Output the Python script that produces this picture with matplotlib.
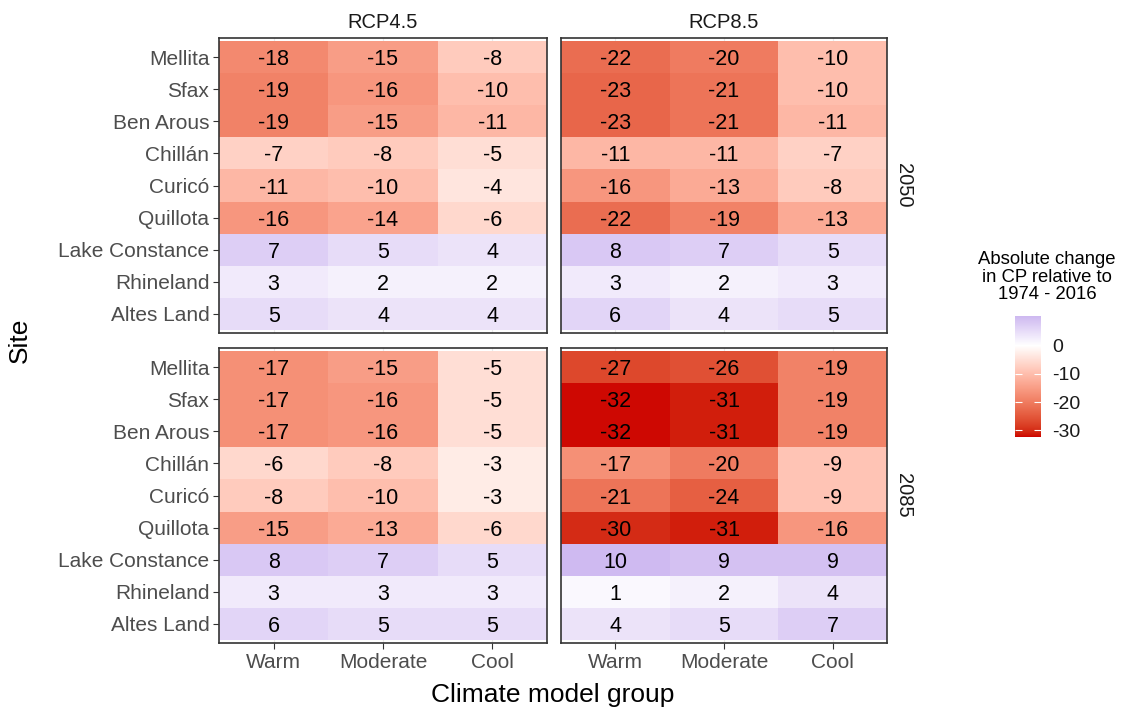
import numpy as np
import matplotlib
matplotlib.use("Agg")
import matplotlib.pyplot as plt
from matplotlib.colors import ListedColormap, Normalize

plt.rcParams['font.family'] = ['Liberation Sans', 'DejaVu Sans']
plt.rcParams['axes.unicode_minus'] = False

# Dane
sites = ["Mellita", "Sfax", "Ben Arous", "Chillán", "Curicó", "Quillota",
         "Lake Constance", "Rhineland", "Altes Land"]
groups = ["Warm", "Moderate", "Cool"]
scenarios = ["RCP4.5", "RCP8.5"]
years = ["2050", "2085"]

# kolumny: Warm, Moderate, Cool
rcp45_2050 = [[-18, -15, -8], [-19, -16, -10], [-19, -15, -11], [-7, -8, -5],
              [-11, -10, -4], [-16, -14, -6], [7, 5, 4], [3, 2, 2], [5, 4, 4]]
rcp85_2050 = [[-22, -20, -10], [-23, -21, -10], [-23, -21, -11], [-11, -11, -7],
              [-16, -13, -8], [-22, -19, -13], [8, 7, 5], [3, 2, 3], [6, 4, 5]]
rcp45_2085 = [[-17, -15, -5], [-17, -16, -5], [-17, -16, -5], [-6, -8, -3],
              [-8, -10, -3], [-15, -13, -6], [8, 7, 5], [3, 3, 3], [6, 5, 5]]
rcp85_2085 = [[-27, -26, -19], [-32, -31, -19], [-32, -31, -19], [-17, -20, -9],
              [-21, -24, -9], [-30, -31, -16], [10, 9, 9], [1, 2, 4], [4, 5, 7]]

panels = {("2050", "RCP4.5"): rcp45_2050, ("2050", "RCP8.5"): rcp85_2050,
          ("2085", "RCP4.5"): rcp45_2085, ("2085", "RCP8.5"): rcp85_2085}

vmin, vmax = -32.3, 10.4


###############################################################################
# Skala kolorów interpolowana w przestrzeni Lab (jak w ggplot2).
###############################################################################

M = np.array([[0.4124, 0.3576, 0.1805],
              [0.2126, 0.7152, 0.0722],
              [0.0193, 0.1192, 0.9505]])
WHITE = np.array([0.95047, 1.0, 1.08883])

def to_lab(hexcol):
    c = np.array(matplotlib.colors.to_rgb(hexcol))
    lin = np.where(c <= 0.04045, c / 12.92, ((c + 0.055) / 1.055) ** 2.4)
    xyz = M @ lin / WHITE
    d = 6 / 29
    f = np.where(xyz > d ** 3, np.cbrt(xyz), xyz / (3 * d * d) + 4 / 29)
    return np.array([116 * f[1] - 16, 500 * (f[0] - f[1]), 200 * (f[1] - f[2])])

def from_lab(lab):
    L, a, b = lab
    fy = (L + 16) / 116
    f = np.array([fy + a / 500, fy, fy - b / 200])
    d = 6 / 29
    xyz = np.where(f > d, f ** 3, 3 * d * d * (f - 4 / 29)) * WHITE
    lin = np.linalg.solve(M, xyz)
    lin = np.clip(lin, 0, 1)
    c = np.where(lin <= 0.0031308, 12.92 * lin, 1.055 * lin ** (1 / 2.4) - 0.055)
    return np.clip(c, 0, 1)

low, mid, high = to_lab("#CD0000"), to_lab("#FFFFFF"), to_lab("#CDB8F0")
colors = []
for v in np.linspace(vmin, vmax, 512):
    if v < 0:
        t = v / vmin
        colors.append(from_lab(mid + t * (low - mid)))
    else:
        t = v / vmax
        colors.append(from_lab(mid + t * (high - mid)))
cmap = ListedColormap(colors)
norm = Normalize(vmin=vmin, vmax=vmax)


###############################################################################
# Rysunek
###############################################################################

W, H = 1121, 712
fig = plt.figure(figsize=(W / 100, H / 100), dpi=100)

def px_axes(x0, y0, x1, y1):
    return fig.add_axes([x0 / W, 1 - y1 / H, (x1 - x0) / W, (y1 - y0) / H])

col_x = [(219, 547), (561, 887)]
row_y = [(38, 333), (348, 643)]

xe = np.arange(len(groups) + 1) - 0.5
ye = np.arange(len(sites) + 1) - 0.5

for i, yr in enumerate(years):
    for j, sc in enumerate(scenarios):
        ax = px_axes(col_x[j][0], row_y[i][0], col_x[j][1], row_y[i][1])
        vals = np.array(panels[(yr, sc)])
        ax.set_axisbelow(True)
        ax.grid(True, color="#EBEBEB", lw=0.8)
        mesh = ax.pcolormesh(xe, ye, vals, cmap=cmap, norm=norm, zorder=1)
        for r in range(len(sites)):
            for c in range(len(groups)):
                ax.text(c, r, str(vals[r, c]), ha="center", va="center_baseline",
                        fontsize=15.5, color="black", zorder=3)
        ax.set_xlim(-0.5, 2.5)
        ax.set_ylim(8.6, -0.6)
        ax.set_xticks(range(len(groups)))
        ax.set_yticks(range(len(sites)))
        ax.tick_params(length=4, width=0.8, color="#333333", labelcolor="#4D4D4D",
                       labelsize=15, pad=3)
        if j == 0:
            ax.set_yticklabels(sites)
        else:
            ax.set_yticklabels([])
            ax.tick_params(axis="y", length=0)
        if i == 1:
            ax.set_xticklabels(groups)
        else:
            ax.set_xticklabels([])
            ax.tick_params(axis="x", length=0)
        for s in ax.spines.values():
            s.set_color("#333333")
            s.set_linewidth(1.2)
            s.set_zorder(4)
        if i == 0:
            ax.set_title(sc, fontsize=14.5, color="#1A1A1A", pad=7)
        if j == 1:
            ax.text(1.02, 0.5, yr, transform=ax.transAxes, rotation=-90,
                    ha="left", va="center", fontsize=14.5, color="#1A1A1A")

fig.text(553 / W, 1 - 695 / H, "Climate model group", ha="center", va="center",
         fontsize=19)
fig.text(20 / W, 1 - 340 / H, "Site", ha="center", va="center", rotation=90,
         fontsize=19)

# Legenda
cax = px_axes(1015, 316, 1041, 437)
cb = fig.colorbar(mesh, cax=cax)
cb.outline.set_visible(False)
cb.set_ticks([0, -10, -20, -30])
cax.tick_params(axis="y", which="both", direction="in", left=True, right=True,
                color="white", length=5, width=0.8, labelsize=14,
                labelcolor="#1A1A1A", pad=8)
fig.text(1047 / W, 1 - 277 / H, "Absolute change\nin CP relative to\n1974 - 2016",
         ha="center", va="center", fontsize=13.3, linespacing=1.05)

fig.savefig("out.png", dpi=100)
